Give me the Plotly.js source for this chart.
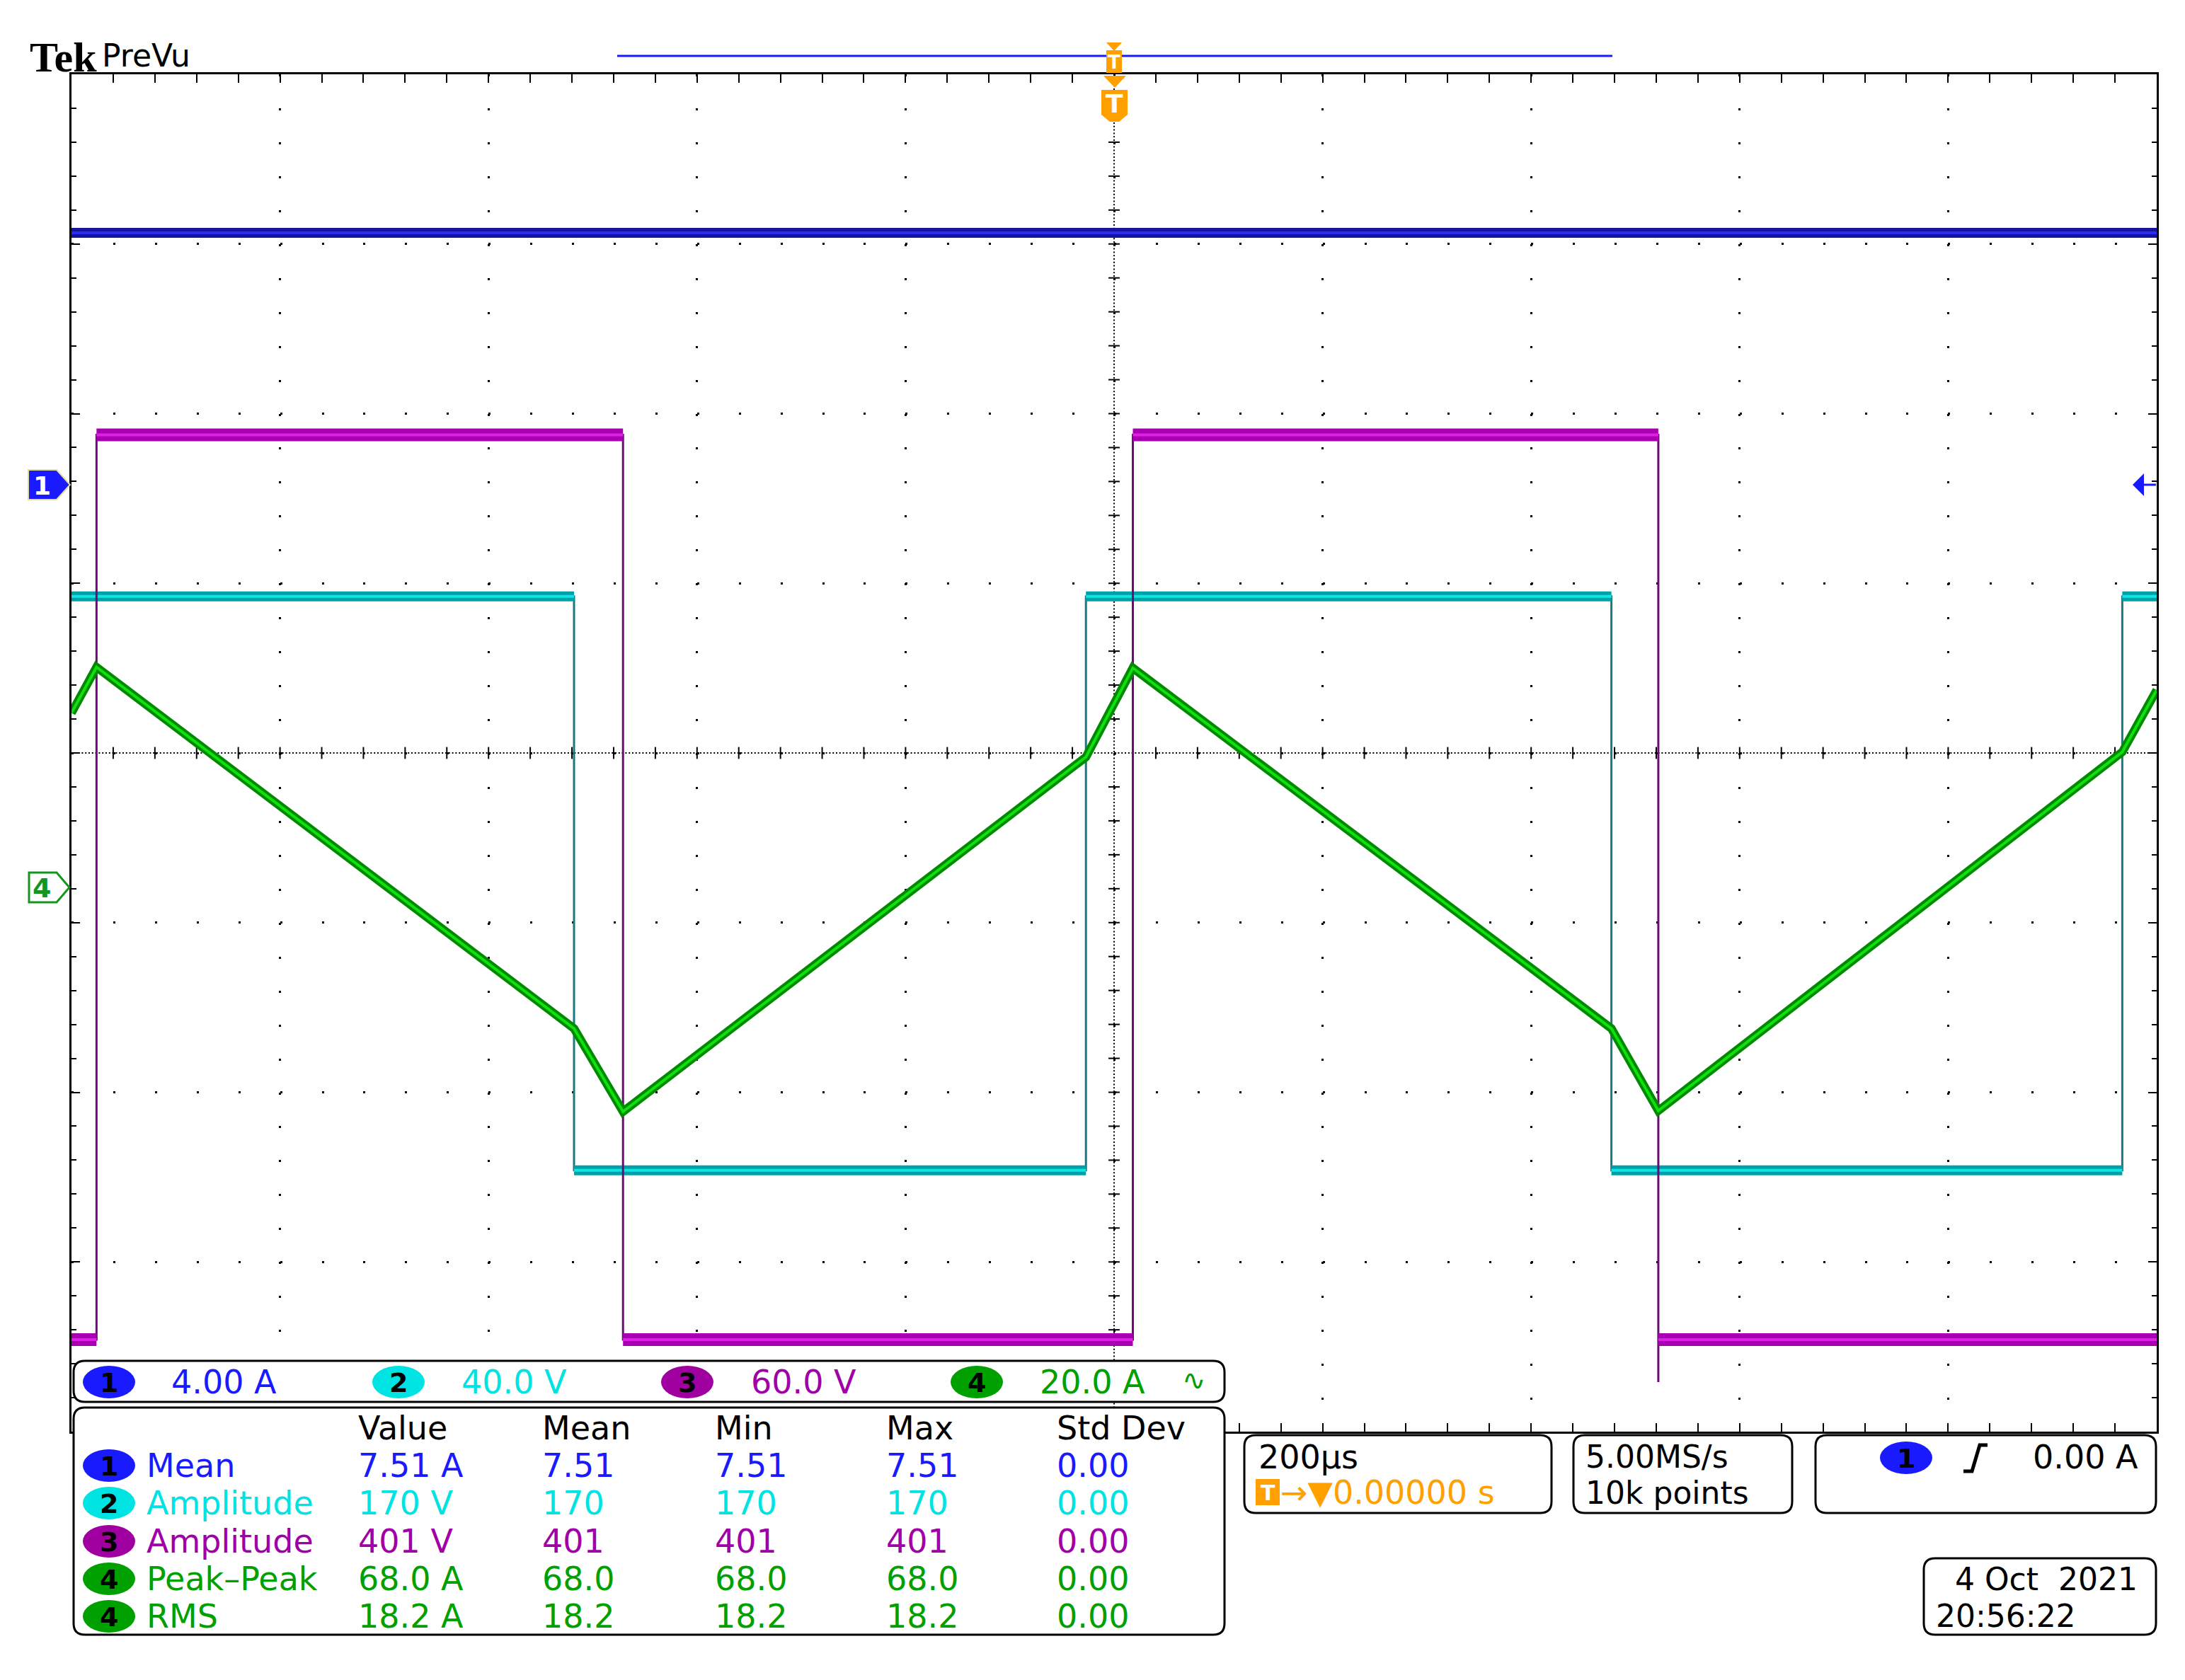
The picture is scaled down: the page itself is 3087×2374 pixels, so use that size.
<!DOCTYPE html>
<html>
<head>
<meta charset="utf-8">
<script src="https://cdn.plot.ly/plotly-3.0.1.min.js"></script>
<style>html,body{margin:0;padding:0;background:#fff;}#plot{width:3087px;height:2374px;}</style>
</head>
<body>
<div id="plot"></div>
<script>
// ---------------- DATA (time in microseconds) ----------------
const ch1Time = [-1000, 1000];
const ch1Amp  = [5.94, 5.94];

const ch2Time = [-1000, -518, -518, -27, -27, 477, 477, 967, 967, 1000];
const ch2Volt = [67.7, 67.7, -67.6, -67.6, 67.7, 67.7, -67.6, -67.6, 67.7, 67.7];

const ch3Time = [-1000, -976, -976, -471, -471, 18, 18, 522, 522, 522, 1000];
const ch3Volt = [0, 0, 320, 320, 0, 0, 320, 320, -15, 0, 0];

const ch4Time = [-1000, -976, -518, -471, -27, 18, 477, 522, 967, 1000];
const ch4Amp  = [20.6, 26.0, -16.6, -26.4, 15.4, 25.9, -16.6, -26.3, 16.0, 23.3];

// vertical scale per division and ground position (divisions from centre)
const chScale  = [4, 40, 60, 20];
const chPosDiv = [1.581, -0.77, -3.458, -0.794];
const chLabel  = ['4.00 A', '40.0 V', '60.0 V', '20.0 A'];

// measurement table
const measHeader = ['Value', 'Mean', 'Min', 'Max', 'Std Dev'];
const measCh    = [1, 2, 3, 4, 4];
const measName  = ['Mean', 'Amplitude', 'Amplitude', 'Peak\u2013Peak', 'RMS'];
const measValue = ['7.51 A', '170 V', '401 V', '68.0 A', '18.2 A'];
const measMean  = ['7.51', '170', '401', '68.0', '18.2'];
const measMin   = ['7.51', '170', '401', '68.0', '18.2'];
const measMax   = ['7.51', '170', '401', '68.0', '18.2'];
const measStd   = ['0.00', '0.00', '0.00', '0.00', '0.00'];

const timebase = '200\u00b5s';
const trigPos = '\u2192\u25bc0.00000 s';
const sampleRate = '5.00MS/s';
const recordLen = '10k points';
const trigLevel = '0.00 A';
const dateStr = '4 Oct\u00a0\u00a02021';
const timeStr = '20:56:22';

// ---------------- STYLE ----------------
const F = 'DejaVu Sans, Liberation Sans, sans-serif';
const L = 101, R = 3047, T = 105, B = 2023;
const px = X => (X - L) / (R - L);
const py = Y => (B - Y) / (B - T);
const txtColor = ['#1a1aff', '#00e3e3', '#a000a8', '#00a000'];
const badgeColor = ['#1a1aff', '#00e3e3', '#a000a0', '#00a000'];
const ORANGE = '#ffa000';

function plateaus(t, v) {
  const xs = [], ys = [];
  for (let i = 0; i < t.length - 1; i++) {
    if (v[i] === v[i + 1] && t[i] !== t[i + 1]) { xs.push(t[i], t[i + 1], null); ys.push(v[i], v[i + 1], null); }
  }
  return {xs, ys};
}

const traces = [];
function addStep(t, v, ax, edge, band, bright, bw) {
  traces.push({x: t, y: v, yaxis: ax, mode: 'lines', line: {color: edge, width: 3}, hoverinfo: 'skip'});
  const p = plateaus(t, v);
  traces.push({x: p.xs, y: p.ys, yaxis: ax, mode: 'lines', line: {color: band, width: bw}, hoverinfo: 'skip'});
  traces.push({x: p.xs, y: p.ys, yaxis: ax, mode: 'lines', line: {color: bright, width: 4}, hoverinfo: 'skip'});
}
addStep(ch1Time, ch1Amp, 'y2', '#1010a0', '#14149e', '#2c2cf0', 14);
addStep(ch2Time, ch2Volt, 'y3', '#1a7a80', '#00a0a8', '#10e4e4', 14);
addStep(ch3Time, ch3Volt, 'y4', '#6e0a78', '#a800b0', '#e020e8', 18);
traces.push({x: ch4Time, y: ch4Amp, yaxis: 'y5', mode: 'lines', line: {color: '#008a00', width: 12}, hoverinfo: 'skip'});
traces.push({x: ch4Time, y: ch4Amp, yaxis: 'y5', mode: 'lines', line: {color: '#10e010', width: 4}, hoverinfo: 'skip'});

function chAxis(i) {
  const s = chScale[i], p = chPosDiv[i];
  return {overlaying: 'y', range: [(-4 - p) * s, (4 - p) * s], visible: false, fixedrange: true};
}

// ---------------- SHAPES ----------------
const shapes = [];
// centre cross lines (dense dots) and their ticks
shapes.push({type: 'line', xref: 'x', yref: 'y', x0: 0, x1: 0, y0: -4, y1: 4, layer: 'between', line: {color: '#000', width: 2, dash: '2px,2.8px'}});
shapes.push({type: 'line', xref: 'x', yref: 'y', x0: -1000, x1: 1000, y0: 0, y1: 0, layer: 'between', line: {color: '#000', width: 2, dash: '2px,2.8px'}});
for (let k = -24; k <= 24; k++) {
  if (k === 0) continue;
  shapes.push({type: 'line', xref: 'x', yref: 'y', x0: k * 40, x1: k * 40, y0: -0.035, y1: 0.035, layer: 'between', line: {color: '#000', width: 2}});
}
for (let k = -19; k <= 19; k++) {
  if (k === 0) continue;
  shapes.push({type: 'line', xref: 'x', yref: 'y', x0: -5.4, x1: 5.4, y0: k * 0.2, y1: k * 0.2, layer: 'between', line: {color: '#000', width: 2}});
}

function P(X, Y) { return px(X).toFixed(6) + ',' + py(Y).toFixed(6); }
function rrect(x0, y0, x1, y1, r) {
  return 'M' + P(x0 + r, y0) + ' L' + P(x1 - r, y0) + ' Q' + P(x1, y0) + ' ' + P(x1, y0 + r) +
    ' L' + P(x1, y1 - r) + ' Q' + P(x1, y1) + ' ' + P(x1 - r, y1) + ' L' + P(x0 + r, y1) +
    ' Q' + P(x0, y1) + ' ' + P(x0, y1 - r) + ' L' + P(x0, y0 + r) + ' Q' + P(x0, y0) + ' ' + P(x0 + r, y0) + ' Z';
}
function poly(pts) { return 'M' + pts.map(p => P(p[0], p[1])).join(' L') + ' Z'; }
function box(x0, y0, x1, y1) {
  shapes.push({type: 'path', xref: 'paper', yref: 'paper', path: rrect(x0, y0, x1, y1, 16), fillcolor: '#fff', line: {color: '#000', width: 3}, layer: 'above'});
}
function ellipse(cx, cy, color) {
  shapes.push({type: 'circle', xref: 'paper', yref: 'paper', x0: px(cx - 37), x1: px(cx + 37), y0: py(cy + 23), y1: py(cy - 23), fillcolor: color, line: {width: 0}, layer: 'above'});
}
box(104, 1923, 1730, 1981);
box(104, 1989, 1730, 2310);
box(1758, 2028, 2192, 2138);
box(2223, 2028, 2532, 2138);
box(2565, 2028, 3046, 2138);
box(2718, 2202, 3046, 2310);

// record bar + trigger markers on top
shapes.push({type: 'line', xref: 'paper', yref: 'paper', x0: px(872), x1: px(2278), y0: py(79), y1: py(79), line: {color: '#1a1aff', width: 3}, layer: 'above'});
shapes.push({type: 'path', xref: 'paper', yref: 'paper', path: poly([[1563, 60], [1585, 60], [1574, 72]]), fillcolor: ORANGE, line: {width: 0}, layer: 'above'});
shapes.push({type: 'rect', xref: 'paper', yref: 'paper', x0: px(1563), x1: px(1585), y0: py(103), y1: py(71), fillcolor: ORANGE, line: {width: 0}, layer: 'above'});
shapes.push({type: 'path', xref: 'paper', yref: 'paper', path: poly([[1559, 107], [1591, 107], [1575, 124]]), fillcolor: ORANGE, line: {width: 0}, layer: 'above'});
shapes.push({type: 'path', xref: 'paper', yref: 'paper', path: poly([[1556, 127], [1593, 127], [1593, 162], [1581, 172], [1568, 172], [1556, 162]]), fillcolor: ORANGE, line: {width: 0}, layer: 'above'});

// channel ground markers on the left
shapes.push({type: 'path', xref: 'paper', yref: 'paper', path: poly([[40, 664], [80, 664], [99, 685], [80, 706], [40, 706]]), fillcolor: '#1a1aff', line: {color: '#e6dc9a', width: 2}, layer: 'above'});
shapes.push({type: 'path', xref: 'paper', yref: 'paper', path: poly([[41, 1233], [80, 1233], [98, 1254], [80, 1275], [41, 1275]]), fillcolor: '#fff', line: {color: '#14961e', width: 3}, layer: 'above'});
// trigger level arrow on the right
shapes.push({type: 'path', xref: 'paper', yref: 'paper', path: poly([[3013, 685], [3029, 669], [3029, 701]]), fillcolor: '#1a1aff', line: {width: 0}, layer: 'above'});
shapes.push({type: 'line', xref: 'paper', yref: 'paper', x0: px(3028), x1: px(3046), y0: py(685), y1: py(685), line: {color: '#1a1aff', width: 3}, layer: 'above'});

// badges
const readoutBadgeX = [154, 563, 971, 1380];
const readoutTextX = [240, 650, 1059, 1467];
for (let i = 0; i < 4; i++) ellipse(readoutBadgeX[i], 1953, badgeColor[i]);
const rowY = [2071, 2124, 2178, 2231, 2284];
for (let i = 0; i < measCh.length; i++) ellipse(154, rowY[i], badgeColor[measCh[i] - 1]);
ellipse(2693, 2060, '#1a1aff');
shapes.push({type: 'rect', xref: 'paper', yref: 'paper', x0: px(1774), x1: px(1808), y0: py(2127), y1: py(2090), fillcolor: ORANGE, line: {width: 0}, layer: 'above'});
// rising-edge slope symbol
shapes.push({type: 'path', xref: 'paper', yref: 'paper', path: 'M' + P(2774, 2079) + ' L' + P(2786, 2079) + ' L' + P(2797, 2042) + ' L' + P(2808, 2042), line: {color: '#000', width: 5}, layer: 'above'});

// ---------------- ANNOTATIONS ----------------
const ann = [];
function txt(X, Y, s, color, size, anchor, family) {
  ann.push({xref: 'paper', yref: 'paper', x: px(X), y: py(Y), text: s, showarrow: false,
    xanchor: anchor || 'left', yanchor: 'middle', font: {family: family || F, size: size, color: color}});
}
txt(40, 81, '<b>Tek</b>', '#000', 60, 'left', 'Liberation Serif, DejaVu Serif, serif');
txt(142, 79, 'PreVu', '#000', 44);
txt(1574, 88, '<b>T</b>', '#fff', 26, 'center');
txt(1574, 147, '<b>T</b>', '#fff', 36, 'center');
txt(59, 686, '<b>1</b>', '#fff', 36, 'center');
txt(59, 1255, '<b>4</b>', '#14961e', 38, 'center');

for (let i = 0; i < 4; i++) {
  txt(readoutBadgeX[i], 1954, '<b>' + (i + 1) + '</b>', '#000', 38, 'center');
  txt(readoutTextX[i], 1953, chLabel[i], txtColor[i], 46);
}
txt(1668, 1950, '\u223f', '#00a000', 40);

const colX = [504, 764, 1008, 1250, 1491];
for (let j = 0; j < measHeader.length; j++) txt(colX[j], 2018, measHeader[j], '#000', 46);
for (let i = 0; i < measCh.length; i++) {
  const c = txtColor[measCh[i] - 1];
  txt(154, rowY[i] + 1, '<b>' + measCh[i] + '</b>', '#000', 38, 'center');
  txt(205, rowY[i], measName[i], c, 46);
  const cells = [measValue[i], measMean[i], measMin[i], measMax[i], measStd[i]];
  for (let j = 0; j < 5; j++) txt(colX[j], rowY[i], cells[j], c, 46);
}

txt(1776, 2059, timebase, '#000', 46);
txt(1791, 2109, '<b>T</b>', '#fff', 30, 'center');
txt(1807, 2109, trigPos, ORANGE, 46);
txt(2238, 2058, sampleRate, '#000', 44);
txt(2238, 2109, recordLen, '#000', 44);
txt(2693, 2061, '<b>1</b>', '#000', 38, 'center');
txt(2870, 2059, trigLevel, '#000', 46);
txt(2760, 2231, dateStr, '#000', 44);
txt(2733, 2283, timeStr, '#000', 44);

// ---------------- LAYOUT ----------------
const layout = {
  width: 3087, height: 2374,
  margin: {l: L, r: 3087 - R, t: T, b: 2374 - B, pad: 0},
  paper_bgcolor: '#fff', plot_bgcolor: '#fff',
  showlegend: false,
  xaxis: {
    range: [-1000, 1000], tick0: -1000, dtick: 200, showticklabels: false,
    showgrid: true, gridcolor: '#000', gridwidth: 3, griddash: '3px,44.95px',
    zeroline: false, showline: true, linecolor: '#000', linewidth: 3, mirror: 'allticks',
    ticks: 'inside', ticklen: 12, tickwidth: 2, tickcolor: '#000',
    minor: {tick0: -1000, dtick: 40, ticks: 'inside', ticklen: 7, tickwidth: 2, tickcolor: '#000', showgrid: false},
    fixedrange: true
  },
  yaxis: {
    range: [-4, 4], tick0: -4, dtick: 1, showticklabels: false,
    showgrid: true, gridcolor: '#000', gridwidth: 3, griddash: '3px,55.92px',
    zeroline: false, showline: true, linecolor: '#000', linewidth: 3, mirror: 'allticks',
    ticks: 'inside', ticklen: 12, tickwidth: 2, tickcolor: '#000',
    minor: {tick0: -4, dtick: 0.2, ticks: 'inside', ticklen: 7, tickwidth: 2, tickcolor: '#000', showgrid: false},
    fixedrange: true
  },
  yaxis2: chAxis(0), yaxis3: chAxis(1), yaxis4: chAxis(2), yaxis5: chAxis(3),
  shapes: shapes,
  annotations: ann
};

Plotly.newPlot('plot', traces, layout, {displayModeBar: false, staticPlot: true});
</script>
</body>
</html>
